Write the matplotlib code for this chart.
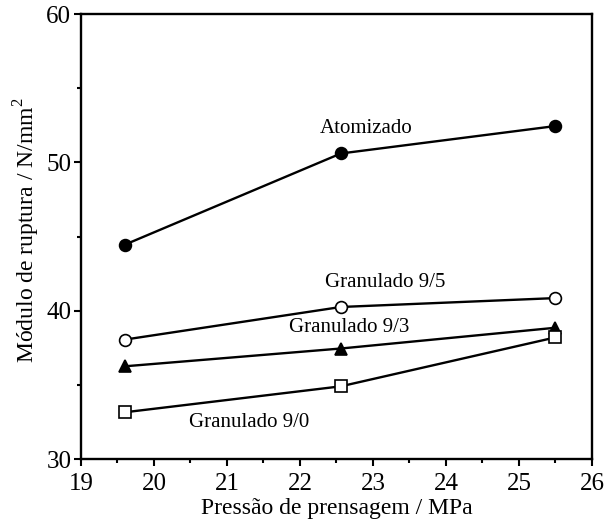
import matplotlib
matplotlib.use("Agg")
import matplotlib.pyplot as plt
from matplotlib.ticker import MultipleLocator

plt.rcParams["font.family"] = ["Liberation Serif", "DejaVu Serif"]
plt.rcParams["mathtext.fontset"] = "custom"
plt.rcParams["mathtext.rm"] = "Liberation Serif"

# pressing pressure (MPa)
pressao = [19.6, 22.56, 25.5]

# modulus of rupture (N/mm2) per powder type
atomizado = [44.45, 50.6, 52.45]
granulado_95 = [38.05, 40.25, 40.85]
granulado_93 = [36.25, 37.45, 38.85]
granulado_90 = [33.15, 34.9, 38.2]

rotulos = ["Atomizado", "Granulado 9/5", "Granulado 9/3", "Granulado 9/0"]
rotulo_pos = [(22.9, 52.3), (23.17, 41.9), (22.68, 38.85), (21.3, 32.45)]

fig = plt.figure(figsize=(6.13, 5.21), dpi=100)
ax = fig.add_axes([0.1321, 0.119, 0.8336, 0.854])

kw = dict(color="black", linewidth=1.7, markersize=8.5, markeredgewidth=1.2, clip_on=False)
ax.plot(pressao, atomizado, marker="o", markerfacecolor="black", **kw)
ax.plot(pressao, granulado_95, marker="o", markerfacecolor="white", **kw)
ax.plot(pressao, granulado_93, marker="^", markerfacecolor="black", **kw)
ax.plot(pressao, granulado_90, marker="s", markerfacecolor="white", **kw)

for txt, (x, y) in zip(rotulos, rotulo_pos):
    ax.text(x, y, txt, ha="center", va="center", fontsize=15)

ax.set_xlim(19, 26)
ax.set_ylim(30, 60)
ax.xaxis.set_major_locator(MultipleLocator(1))
ax.xaxis.set_minor_locator(MultipleLocator(0.5))
ax.yaxis.set_major_locator(MultipleLocator(10))
ax.yaxis.set_minor_locator(MultipleLocator(5))
ax.tick_params(which="both", direction="out", top=False, right=False, width=1.5, labelsize=18)
ax.tick_params(which="major", length=5, pad=2)
ax.tick_params(which="minor", length=3)
ax.tick_params(axis="x", which="major", pad=5)
for s in ax.spines.values():
    s.set_linewidth(1.7)

ax.set_xlabel("Pressão de prensagem / MPa", fontsize=17, labelpad=2)
ax.set_ylabel("Módulo de ruptura / N/mm$^2$", fontsize=17, labelpad=3)
ax.yaxis.label.set_y(0.515)

fig.savefig("out.png", dpi=100)
